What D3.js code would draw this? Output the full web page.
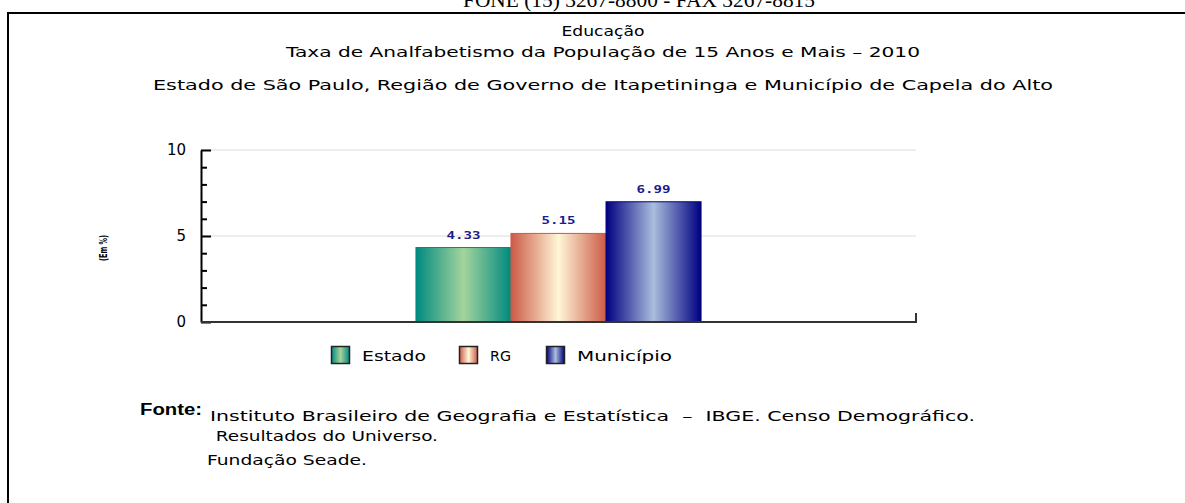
<!DOCTYPE html>
<html>
<head>
<meta charset="utf-8">
<script src="https://cdn.jsdelivr.net/npm/d3@7"></script>
<style>
  body { margin: 0; background: #fff; overflow: hidden; }
  text { font-family: "DejaVu Sans", sans-serif; fill: #000; }
</style>
</head>
<body>
<div id="graph"></div>
<script>
  // data
  const categories = ["Estado", "RG", "Município"]
  const values = [4.33, 5.15, 6.99]
  const valueLabels = ["4.33", "5.15", "6.99"]
  const yTicks = [0, 5, 10]
  const yMinorTicks = [1, 2, 3, 4, 6, 7, 8, 9]
  const titleLines = [
    "Educação",
    "Taxa de Analfabetismo da População de 15 Anos e Mais – 2010",
    "Estado de São Paulo, Região de Governo de Itapetininga e Município de Capela do Alto"
  ]
  const sourceLines = [
    "Instituto Brasileiro de Geografia e Estatística  –  IBGE. Censo Demográfico.",
    " Resultados do Universo.",
    "Fundação Seade."
  ]

  // edge / centre colours of each bar gradient
  const barColors = [
    { edge: "#008a80", mid: "#a4d49c" },
    { edge: "#cc5a46", mid: "#fff6d8" },
    { edge: "#000080", mid: "#aabddc" }
  ]

  width = 1185
  height = 503
  margin = ({top: 150, right: 269, bottom: 181, left: 201})

  const svg = d3.select("#graph").append("svg")
    .attr("width", width).attr("height", height)
    .attr("viewBox", [0, 0, width, height])

  const defs = svg.append("defs")
  barColors.forEach((c, i) => {
    const g = defs.append("linearGradient").attr("id", "grad" + i)
      .attr("x1", "0%").attr("x2", "100%").attr("y1", "0%").attr("y2", "0%")
    g.append("stop").attr("offset", "0%").attr("stop-color", c.edge)
    g.append("stop").attr("offset", "50%").attr("stop-color", c.mid)
    g.append("stop").attr("offset", "100%").attr("stop-color", c.edge)
  })

  // page header, cut off at the top as in the scan
  svg.append("text")
    .attr("x", 463).attr("y", 7)
    .attr("textLength", 352).attr("lengthAdjust", "spacingAndGlyphs")
    .style("font-family", "'Liberation Serif', serif")
    .style("font-size", "20px")
    .text("FONE  (15)  3267-8800 - FAX  3267-8815")

  // box
  svg.append("path")
    .attr("d", `M8,${height + 10}V13H${width + 10}`)
    .attr("fill", "none").attr("stroke", "#000").attr("stroke-width", 2)

  // titles
  const titleY = [36, 57, 90]
  const titleW = [83, 634, 900]
  svg.append("g").selectAll("text").data(titleLines).join("text")
    .attr("x", 603).attr("y", (d, i) => titleY[i])
    .attr("text-anchor", "middle")
    .attr("textLength", (d, i) => titleW[i]).attr("lengthAdjust", "spacingAndGlyphs")
    .style("font-size", "14px")
    .text(d => d)

  y = d3.scaleLinear()
    .domain([0, 10])
    .range([height - margin.bottom, margin.top])

  x0 = d3.scaleBand()
    .domain(["2010"])
    .range([margin.left, width - margin.right])
    .paddingOuter(0.754)

  x = d3.scaleBand()
    .domain(categories)
    .range([x0("2010"), x0("2010") + x0.bandwidth()])

  // grid lines
  svg.append("g").selectAll("line").data(yTicks.filter(d => d > 0)).join("line")
    .attr("x1", margin.left).attr("x2", width - margin.right)
    .attr("y1", d => y(d)).attr("y2", d => y(d))
    .attr("stroke", "#dcdcdc").attr("stroke-width", 1)

  // bars
  svg.append("g").selectAll("rect").data(values).join("rect")
    .attr("x", (d, i) => x(categories[i]))
    .attr("y", d => y(d))
    .attr("width", x.bandwidth())
    .attr("height", d => y(0) - y(d))
    .attr("fill", (d, i) => `url(#grad${i})`)
    .attr("stroke", (d, i) => barColors[i].edge)
    .attr("stroke-width", 1)

  // value labels
  svg.append("g").selectAll("text").data(values).join("text")
    .attr("x", (d, i) => x(categories[i]) + x.bandwidth() / 2)
    .attr("y", d => y(d) - 9)
    .attr("text-anchor", "middle")
    .attr("textLength", 34).attr("lengthAdjust", "spacingAndGlyphs")
    .style("font-family", "'DejaVu Sans Mono', monospace")
    .style("font-size", "11px").style("font-weight", "bold")
    .style("fill", "#1c1c8c")
    .text((d, i) => valueLabels[i])

  // y axis
  const yAxis = g => g
    .attr("transform", `translate(${margin.left},0)`)
    .call(d3.axisLeft(y).tickValues(yTicks).tickSizeInner(-10).tickSizeOuter(0).tickPadding(15))
    .call(g => g.select(".domain").attr("stroke-width", 2))
    .call(g => g.selectAll(".tick line").attr("stroke-width", 2))
    .call(g => g.selectAll(".tick text")
      .style("font-family", "'DejaVu Sans', sans-serif")
      .style("font-size", "15px"))

  svg.append("g")
    .attr("transform", `translate(${margin.left},0)`)
    .call(d3.axisLeft(y).tickValues(yMinorTicks).tickSizeInner(-6).tickSizeOuter(0).tickFormat(""))
    .call(g => g.select(".domain").remove())
    .call(g => g.selectAll(".tick line").attr("stroke-width", 2))

  svg.append("g").call(yAxis)

  // x axis baseline with small end tick
  svg.append("path")
    .attr("d", `M${margin.left},${y(0)}H${width - margin.right}V${y(0) - 9}`)
    .attr("fill", "none").attr("stroke", "#333").attr("stroke-width", 2)

  // y axis title
  svg.append("text")
    .attr("transform", `translate(107,248) rotate(-90)`)
    .attr("text-anchor", "middle")
    .attr("textLength", 26).attr("lengthAdjust", "spacingAndGlyphs")
    .style("font-size", "10px").style("font-weight", "bold")
    .text("(Em %)")

  // legend
  const legendX = [331, 459, 546]
  const legendW = [64, 21, 95]
  const legend = svg.append("g").selectAll("g").data(categories).join("g")
    .attr("transform", (d, i) => `translate(${legendX[i]},346)`)
  legend.append("rect")
    .attr("x", 0.5).attr("y", 0.5).attr("width", 18).attr("height", 17)
    .attr("fill", (d, i) => `url(#grad${i})`)
    .attr("stroke", "#222").attr("stroke-width", 1.5)
  legend.append("text")
    .attr("x", 31).attr("y", 15)
    .attr("textLength", (d, i) => legendW[i]).attr("lengthAdjust", "spacingAndGlyphs")
    .style("font-size", "14px")
    .text(d => d)

  // source
  svg.append("text")
    .attr("x", 140).attr("y", 415)
    .attr("textLength", 62).attr("lengthAdjust", "spacingAndGlyphs")
    .style("font-family", "'Liberation Sans', Arial, sans-serif")
    .style("font-size", "16px").style("font-weight", "bold")
    .text("Fonte:")

  const srcX = [210, 210, 207]
  const srcY = [421, 441, 465]
  const srcW = [765, 228, 160]
  svg.append("g").selectAll("text").data(sourceLines).join("text")
    .attr("x", (d, i) => srcX[i]).attr("y", (d, i) => srcY[i])
    .attr("textLength", (d, i) => srcW[i]).attr("lengthAdjust", "spacingAndGlyphs")
    .style("font-size", "14px")
    .style("white-space", "pre")
    .text(d => d)
</script>
</body>
</html>
